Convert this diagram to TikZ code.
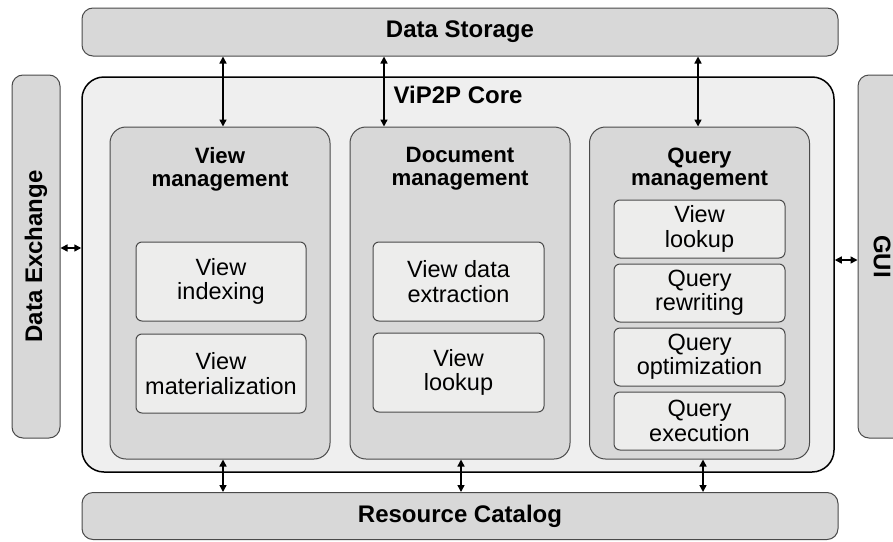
\documentclass[tikz,border=0pt]{standalone}
\usepackage{fontspec}
\setmainfont{Liberation Sans}
\usetikzlibrary{positioning,arrows.meta}

\definecolor{layergray}{HTML}{D8D8D8}
\definecolor{coregray}{HTML}{EFEFEF}
\definecolor{subgray}{HTML}{EDEDEC}
\definecolor{linegray}{HTML}{4A4A4A}

\tikzset{
  layer/.style={draw=linegray, line width=1pt, fill=layergray, rounded corners=11pt, inner sep=0pt},
  module/.style={draw=linegray, line width=1pt, fill=layergray, rounded corners=16pt, inner sep=0pt,
    minimum width=220pt, minimum height=332pt},
  task/.style={draw=linegray, line width=1pt, fill=subgray, rounded corners=6pt, inner sep=0pt,
    align=center, font=\fontsize{23.5}{24.3}\selectfont},
  bigtitle/.style={inner sep=0pt, font=\fontsize{24}{24}\selectfont\bfseries},
  modtitle/.style={inner sep=0pt, align=center, font=\fontsize{22.2}{22.7}\selectfont\bfseries},
  link/.style={{Triangle[length=7pt,width=7pt]}-{Triangle[length=7pt,width=7pt]}, line width=1.5pt},
}

\begin{document}
\begin{tikzpicture}[x=1pt, y=-1pt]
\clip (0,0) rectangle (893,541);
\fill[white] (0,0) rectangle (893,541);
% outer layers
\node[layer, minimum width=756pt, minimum height=48pt]  (storage)  at (460,32)    {};
\node[layer, minimum width=756pt, minimum height=47pt]  (catalog)  at (460,516)   {};
\node[layer, minimum width=48pt,  minimum height=363pt] (exchange) at (36,256.5)  {};
\node[layer, minimum width=48pt,  minimum height=363pt] (gui)      at (882,256.5) {};
\node[bigtitle]            (storagetxt)  at (storage)  {Data Storage};
\node[bigtitle]            (catalogtxt)  at (catalog)  {Resource Catalog};
\node[bigtitle, rotate=90] (exchangetxt) at (exchange) {Data Exchange};
\node[bigtitle, rotate=-90](guitxt)      at (gui)      {GUI};
% core
\node[draw=black, line width=1.5pt, fill=coregray, rounded corners=22pt,
      minimum width=752pt, minimum height=395pt, inner sep=0pt] (core) at (458,274.5) {};
\node[bigtitle, below=10pt of core.north] (coretxt) {ViP2P Core};
% modules
\node[module] (vm) at (220,293)   {};
\node[module] (dm) at (460,293)   {};
\node[module] (qm) at (699.5,293) {};
\node[modtitle, below=21pt of vm.north] (vmtxt) {View\\management};
\node[modtitle, below=21pt of dm.north] (dmtxt) {Document\\management};
\node[modtitle, below=21pt of qm.north] (qmtxt) {Query\\management};
% tasks
\node[task, minimum width=170pt, minimum height=79pt] (vindex)   at (221,281.5)   {View\\indexing};
\node[task, minimum width=170pt, minimum height=79pt, below=12pt of vindex] (vmat) {View\\materialization};
\node[task, minimum width=171pt, minimum height=79pt] (vextract) at (458.5,281.5) {View data\\extraction};
\node[task, minimum width=171pt, minimum height=79pt, below=11pt of vextract] (dlookup) {View\\lookup};
\node[task, minimum width=171pt, minimum height=58pt] (qlookup)  at (699.5,229)   {View\\lookup};
\node[task, minimum width=171pt, minimum height=58pt, below=5pt of qlookup]  (qrewrite) {Query\\rewriting};
\node[task, minimum width=171pt, minimum height=58pt, below=5pt of qrewrite] (qoptim)   {Query\\optimization};
\node[task, minimum width=171pt, minimum height=58pt, below=5pt of qoptim]   (qexec)    {Query\\execution};
% links
\path[link]
    ([xshift=3pt]vm.north)    edge ([xshift=3pt]vm.north |- storage.south)
    ([xshift=-76pt]dm.north)  edge ([xshift=-76pt]dm.north |- storage.south)
    ([xshift=-1.5pt]qm.north) edge ([xshift=-1.5pt]qm.north |- storage.south)
    ([xshift=3pt]vm.south)    edge ([xshift=3pt]vm.south |- catalog.north)
    ([xshift=1pt]dm.south)    edge ([xshift=1pt]dm.south |- catalog.north)
    ([xshift=3.5pt]qm.south)  edge ([xshift=3.5pt]qm.south |- catalog.north)
    ([yshift=8.5pt]exchange.east) edge ([yshift=8.5pt]exchange.east -| core.west)
    ([yshift=-3.5pt]gui.west)     edge ([yshift=-3.5pt]gui.west -| core.east)
;
\end{tikzpicture}
\end{document}
